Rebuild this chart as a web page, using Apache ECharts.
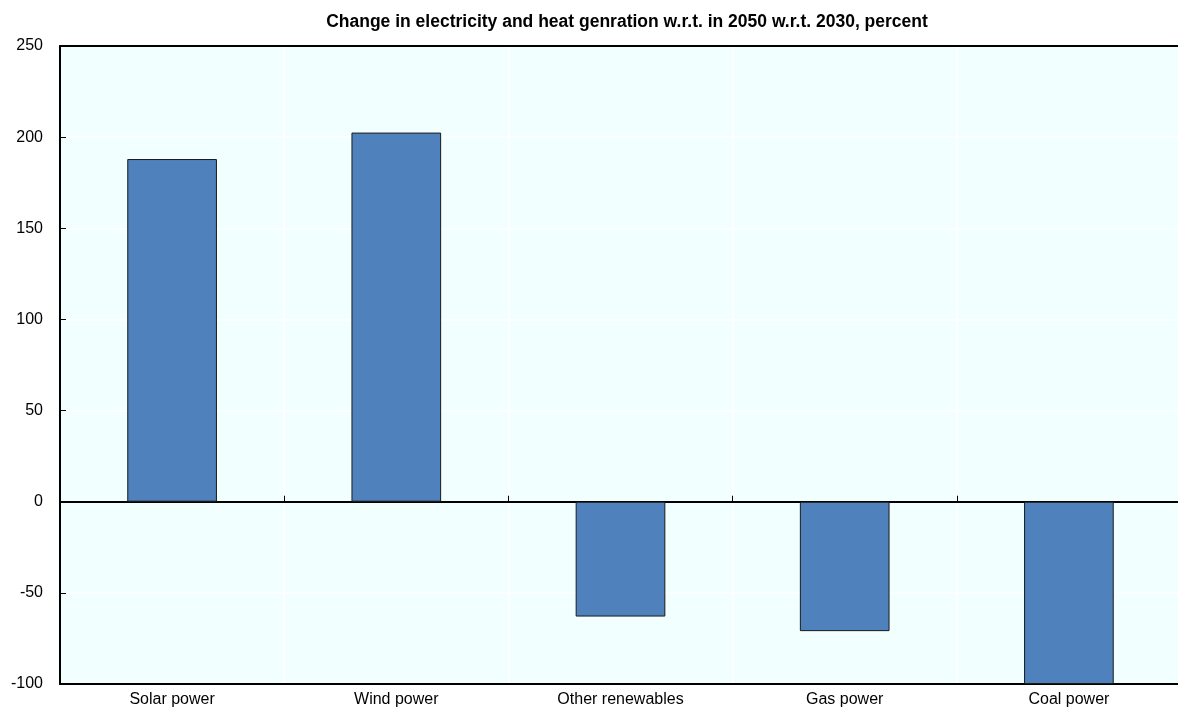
<!DOCTYPE html>
<html><head><meta charset="utf-8">
<script src="https://cdn.jsdelivr.net/npm/echarts@6/dist/echarts.min.js"></script>
<style>html,body{margin:0;padding:0;background:#fff;overflow:hidden}#c{width:1181px;height:713px}</style>
</head><body><div id="c"></div>
<script>
const categories = ["Solar power", "Wind power", "Other renewables", "Gas power", "Coal power"];
const values = [188, 202.5, -63, -71, -100];
const yTicks = { min: -100, max: 250, interval: 50 };
const titleText = "Change in electricity and heat genration w.r.t. in 2050 w.r.t. 2030, percent";
const FONT = "'Liberation Sans Narrow', 'Arial Narrow', 'Liberation Sans', Arial, sans-serif";

const chart = echarts.init(document.getElementById('c'), null, { renderer: 'canvas' });
chart.setOption({
  animation: false,
  title: { text: titleText, left: 622, textAlign: 'center', top: 8,
    textStyle: { fontFamily: FONT, fontSize: 17.5, fontWeight: 'bold', color: '#000' } },
  grid: { left: 60, right: 0, top: 46, bottom: 29, show: true, backgroundColor: '#F2FFFF',
    borderWidth: 0, containLabel: false },
  xAxis: [
    { type: 'category', data: categories, position: 'bottom',
      axisLine: { onZero: false, lineStyle: { color: '#000', width: 2 } },
      axisTick: { show: false },
      splitLine: { show: true, lineStyle: { color: '#fff', width: 2 } },
      axisLabel: { fontFamily: FONT, fontSize: 16, color: '#000', margin: 8 } },
    { type: 'category', data: categories, position: 'bottom',
      axisLine: { onZero: true, lineStyle: { color: '#000', width: 2 } },
      axisTick: { show: true, inside: true, length: 6, lineStyle: { color: '#000', width: 1 } },
      axisLabel: { show: false }, splitLine: { show: false } },
    { type: 'category', data: categories, position: 'top',
      axisLine: { onZero: false, lineStyle: { color: '#000', width: 2 } },
      axisTick: { show: false }, axisLabel: { show: false }, splitLine: { show: false } }
  ],
  yAxis: { type: 'value', min: yTicks.min, max: yTicks.max, interval: yTicks.interval,
    axisLine: { show: true, lineStyle: { color: '#000', width: 2 } },
    axisTick: { show: true, inside: true, length: 6, lineStyle: { color: '#000', width: 1 } },
    splitLine: { show: true, lineStyle: { color: '#fff', width: 1.5 } },
    axisLabel: { fontFamily: FONT, fontSize: 16, color: '#000', margin: 17 } },
  series: [{ type: 'bar', xAxisIndex: 0, data: values, barWidth: '40%',
    itemStyle: { color: '#4F81BD', borderColor: '#1a1a1a', borderWidth: 1 } }]
});
</script></body></html>
